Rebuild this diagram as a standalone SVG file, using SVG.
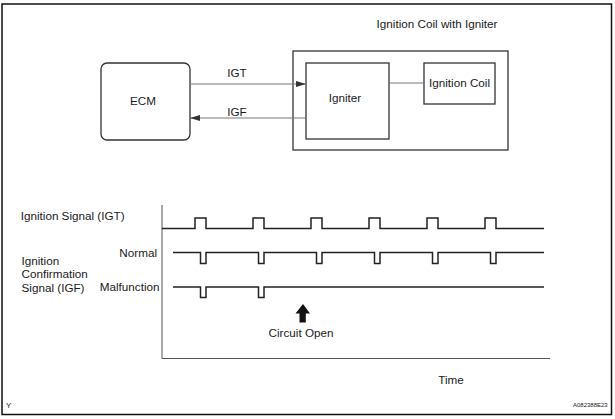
<svg xmlns="http://www.w3.org/2000/svg" width="615" height="419" viewBox="0 0 615 419">
<defs>
<style>
text{font-family:"Liberation Sans",Arial,sans-serif;font-size:11.7px;fill:#1a1a1a}
.box{fill:#fff;stroke:#333;stroke-width:1.3}
.conn{fill:none;stroke:#777;stroke-width:1}
.sig{fill:none;stroke:#222;stroke-width:1.5}
.axis{fill:none;stroke:#555;stroke-width:1}
</style>
<marker id="ah" viewBox="0 0 10 6" refX="10" refY="3" markerWidth="10" markerHeight="6" markerUnits="userSpaceOnUse" orient="auto">
<path d="M0,0 L10,3 L0,6 Z" fill="#333"/>
</marker>
</defs>
<rect x="0" y="0" width="615" height="419" fill="#fff"/>
<rect x="2" y="4" width="609.5" height="410.5" fill="none" stroke="#111" stroke-width="1.5"/>

<text x="437" y="28" text-anchor="middle">Ignition Coil with Igniter</text>

<g id="ecm">
<rect class="box" x="101" y="63" width="89" height="77" rx="6"/>
<text x="143" y="105" text-anchor="middle">ECM</text>
</g>
<g id="ignition-coil-with-igniter">
<rect class="box" x="293" y="51" width="215" height="99" fill="none"/>
</g>
<g id="igniter">
<rect class="box" x="306" y="63" width="83" height="76"/>
<text x="345" y="102" text-anchor="middle">Igniter</text>
</g>
<g id="ignition-coil">
<rect class="box" x="424" y="63" width="71" height="41"/>
<text x="459.5" y="87" text-anchor="middle">Ignition Coil</text>
</g>

<g id="connectors">
<line class="conn" x1="190" y1="84" x2="306" y2="84" marker-end="url(#ah)"/>
<line class="conn" x1="306" y1="118" x2="190" y2="118" marker-end="url(#ah)"/>
<line class="conn" x1="389" y1="83" x2="424" y2="83"/>
<text x="237" y="77" text-anchor="middle">IGT</text>
<text x="237" y="116" text-anchor="middle">IGF</text>
</g>

<g id="chart">
<path class="axis" d="M162,205 V358.5 H550"/>
<path class="sig" d="M162,228.5 H195 V218 H206 V228.5 H253 V218 H264 V228.5 H311 V218 H322 V228.5 H369 V218 H380 V228.5 H427 V218 H438 V228.5 H485 V218 H496 V228.5 H544"/>
<path class="sig" d="M173,252.5 H200.5 V263.5 H206 V252.5 H258.5 V263.5 H264 V252.5 H316.5 V263.5 H322 V252.5 H374.5 V263.5 H380 V252.5 H432.5 V263.5 H438 V252.5 H490.5 V263.5 H496 V252.5 H544"/>
<path class="sig" d="M173,287 H200.5 V297.5 H206 V287 H258.5 V297.5 H264 V287 H544"/>
<path d="M303,304 L310,313.5 L305.8,313.5 L305.8,322.5 L299.5,322.5 L299.5,313.5 L295.5,313.5 Z" fill="#111"/>
<text x="20.7" y="219.5">Ignition Signal (IGT)</text>
<text x="157" y="257" text-anchor="end">Normal</text>
<text x="21.5" y="264.5">Ignition</text>
<text x="21.5" y="278">Confirmation</text>
<text x="21.5" y="291.5">Signal (IGF)</text>
<text x="159.5" y="291" text-anchor="end">Malfunction</text>
<text x="301" y="337" text-anchor="middle">Circuit Open</text>
<text x="451" y="384" text-anchor="middle">Time</text>
</g>

<text x="6" y="408" style="font-size:8px">Y</text>
<text x="573" y="407" style="font-size:6px">A082388E23</text>
</svg>
